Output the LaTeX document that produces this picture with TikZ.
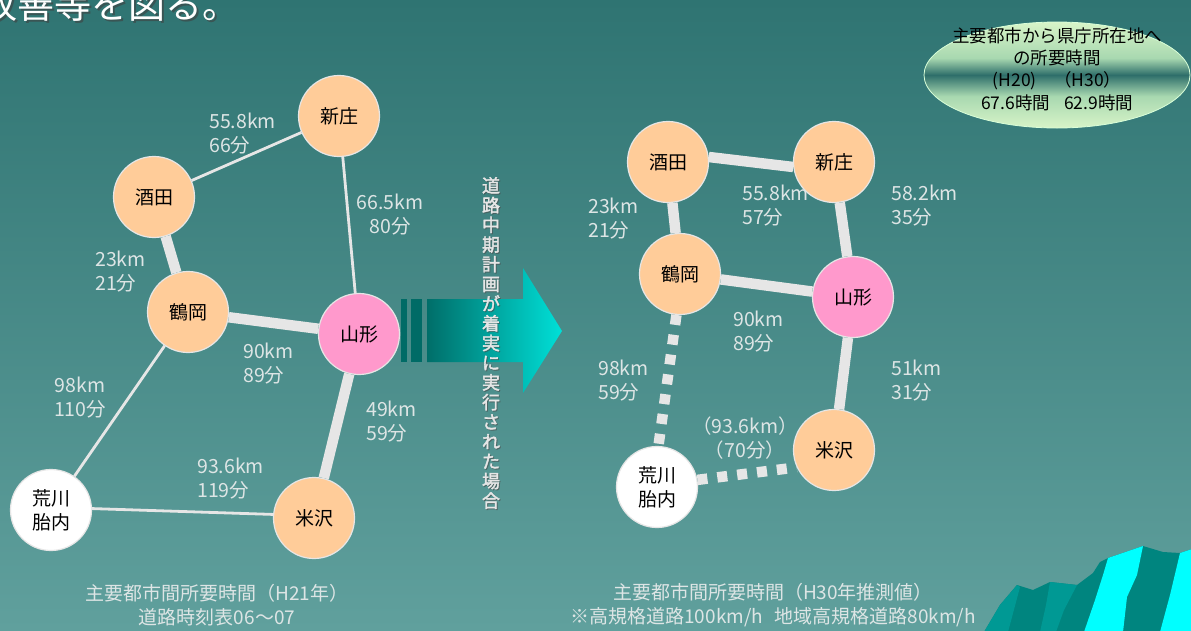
\documentclass[tikz,border=0pt]{standalone}
\usepackage{fontspec}
\setmainfont[AutoFakeBold=2]{Noto Sans CJK JP}
\usetikzlibrary{shapes.geometric}

\definecolor{bgtop}{HTML}{2F7472}
\definecolor{bgbot}{HTML}{60A09D}
\definecolor{roadc}{HTML}{E6E6E6}
\definecolor{labelc}{HTML}{DDE5E5}
\definecolor{peachc}{HTML}{FFCC99}
\definecolor{pinkfill}{HTML}{FF99CC}
\definecolor{arrowdark}{HTML}{006E69}
\definecolor{arrowlight}{HTML}{00E0D8}
\definecolor{bardark}{HTML}{006B66}
\definecolor{ellight}{HTML}{D8F4C8}
\definecolor{elmid}{HTML}{A8D8B0}
\definecolor{eldark}{HTML}{2E6E6A}
\definecolor{mtdark}{HTML}{00857F}
\definecolor{mtmid}{HTML}{009994}
\definecolor{mtcyan}{HTML}{00FFFF}

% light band, dark seam in the middle, light band again
\pgfdeclareverticalshading{ellshade}{100bp}{%
  color(0bp)=(ellight); color(25bp)=(ellight); color(40bp)=(elmid);
  color(50bp)=(eldark); color(58bp)=(elmid); color(75bp)=(ellight);
  color(100bp)=(ellight)}

\begin{document}
\begin{tikzpicture}[x=1pt,y=-1pt,
  city/.style={circle, minimum size=81pt, inner sep=0pt, draw=roadc,
    line width=1.2pt, text=black, align=center,
    font=\fontsize{19}{24}\selectfont},
  peach/.style={city, fill=peachc},
  capital/.style={city, fill=pinkfill},
  plain/.style={city, fill=white},
  thinroad/.style={draw=roadc, line width=2.8pt},
  thickroad/.style={draw=roadc, line width=10.5pt},
  plannedroad/.style={draw=roadc, line width=10.5pt, dash pattern=on 10pt off 10pt},
  dist/.style={text=labelc, inner sep=0pt, align=left,
    font=\fontsize{19.5}{24}\selectfont},
  caption/.style={text=labelc, inner sep=0pt, align=center,
    font=\fontsize{19}{24}\selectfont},
]
\useasboundingbox (0,0) rectangle (1191,630);
\clip (0,0) rectangle (1191,630);
\shade[top color=bgtop, bottom color=bgbot] (0,0) rectangle (1191,630);

% heading line running in from the left
\node[anchor=base west, inner sep=0pt, text=black!75, opacity=0.6,
  font=\fontsize{37}{40}\selectfont] (headshadow) at (-18,20) {改善等を図る。};
\node[anchor=base west, inner sep=0pt, text=white,
  font=\fontsize{37}{40}\selectfont] (head) at (-20,18) {改善等を図る。};

% summary ellipse
\node[ellipse, minimum width=266pt, minimum height=106pt, draw=white!85!green,
  line width=0.8pt, shading=ellshade] (summary) at (1057,75) {};
\node[align=center, inner sep=0pt, text=black,
  font=\fontsize{17.5}{22.3}\selectfont] (summarytext) at (1057,69)
  {主要都市から県庁所在地へ\\の所要時間\\(H20)\hspace{1em}（H30）\\67.6時間\hspace{0.8em}62.9時間};

% ---------- current network ----------
\node[peach]   (shinjoL)   at (339,116) {新庄};
\node[peach]   (sakataL)   at (154,197) {酒田};
\node[peach]   (tsuruokaL) at (188,312) {鶴岡};
\node[capital] (yamagataL) at (359,334) {山形};
\node[plain]   (araL)      at (51,510)  {荒川\\胎内};
\node[peach]   (yonezawaL) at (314,518) {米沢};

\draw[thinroad]  (sakataL) -- (shinjoL);
\draw[thinroad]  (shinjoL) -- (yamagataL);
\draw[thickroad] (sakataL) -- (tsuruokaL);
\draw[thickroad] (tsuruokaL) -- (yamagataL);
\draw[thinroad]  (tsuruokaL) -- (araL);
\draw[thinroad]  (araL.2) -- (yonezawaL.175);
\draw[thickroad] (yamagataL) -- (yonezawaL);

\node[dist, anchor=west] (dSS)  at (209,134) {55.8km\\66分};
\node[dist, anchor=center, align=center] (dSY) at (390,215) {66.5km\\80分};
\node[dist, anchor=west] (dST)  at (95,272)  {23km\\21分};
\node[dist, anchor=center, align=center] (dTA) at (80,398) {98km\\110分};
\node[dist, anchor=west] (dTY)  at (243,364) {90km\\89分};
\node[dist, anchor=west] (dYY)  at (366,422) {49km\\59分};
\node[dist, anchor=west] (dAY)  at (197,479) {93.6km\\119分};

\node[caption] (capL) at (217,605) {主要都市間所要時間（H21年）\\道路時刻表06～07};

% ---------- transition arrow ----------
\fill[bardark] (401,299) rectangle (407,362);
\fill[bardark] (411,299) rectangle (422,362);
\shade[left color=arrowdark, right color=arrowlight]
  (427,299) -- (523,299) -- (523,268) -- (562,331) -- (523,393)
  -- (523,362) -- (427,362) -- cycle;
\node[align=center, inner sep=0pt, text=black!70, opacity=0.5,
  font=\fontsize{18}{19.7}\selectfont\bfseries] (planshadow) at (492,344)
  {道\\路\\中\\期\\計\\画\\が\\着\\実\\に\\実\\行\\さ\\れ\\た\\場\\合};
\node[align=center, inner sep=0pt, text=roadc,
  font=\fontsize{18}{19.7}\selectfont\bfseries] (plan) at (491,343)
  {道\\路\\中\\期\\計\\画\\が\\着\\実\\に\\実\\行\\さ\\れ\\た\\場\\合};

% ---------- planned network ----------
\node[peach]   (sakataR)   at (668,162) {酒田};
\node[peach]   (shinjoR)   at (834,162) {新庄};
\node[peach]   (tsuruokaR) at (680,274) {鶴岡};
\node[capital] (yamagataR) at (853,297) {山形};
\node[peach]   (yonezawaR) at (834,450) {米沢};
\node[plain]   (araR)      at (657,487) {荒川\\胎内};

\draw[thickroad] (sakataR.7) -- (shinjoR.187);
\draw[thickroad] (sakataR) -- (tsuruokaR);
\draw[thickroad] (shinjoR) -- (yamagataR);
\draw[thickroad] (tsuruokaR) -- (yamagataR);
\draw[thickroad] (yamagataR) -- (yonezawaR);
\draw[plannedroad] (tsuruokaR.265) -- (araR.88);
\draw[plannedroad] (araR.10) -- (yonezawaR.205);

\node[dist, anchor=west] (eST) at (588,219) {23km\\21分};
\node[dist, anchor=west] (eSS) at (742,206) {55.8km\\57分};
\node[dist, anchor=west] (eSY) at (891,206) {58.2km\\35分};
\node[dist, anchor=west] (eTY) at (733,332) {90km\\89分};
\node[dist, anchor=west] (eTA) at (598,381) {98km\\59分};
\node[dist, anchor=west] (eYY) at (891,381) {51km\\31分};
\node[dist, anchor=center, align=center] (eAY) at (745,438) {（93.6km）\\（70分）};

\node[caption] (capR) at (773,605)
  {主要都市間所要時間（H30年推測値）\\※高規格道路100km/h\hspace{0.6em}地域高規格道路80km/h};

% ---------- mountain ornament ----------
\fill[mtdark] (984,632) -- (1000,605) -- (1017,585) -- (1033,590) -- (1050,582)
  -- (1077,585) -- (1093,573) -- (1100,562) -- (1108,558) -- (1143,546)
  -- (1163,552) -- (1180,553) -- (1195,548) -- (1195,632) -- cycle;
\fill[mtmid] (984,632) -- (1000,605) -- (1017,585) -- (1020,587) -- (1008,632) -- cycle;
\fill[mtmid] (1050,582) -- (1077,585) -- (1064,610) -- (1056,632) -- (1040,632)
  -- (1046,605) -- cycle;
\fill[mtcyan] (1108,558) -- (1143,546) -- (1137,575) -- (1127,597) -- (1123,632)
  -- (1084,632) -- (1095,600) -- (1103,575) -- cycle;
\fill[mtcyan] (1180,553) -- (1195,548) -- (1195,632) -- (1160,632) -- (1170,595) -- cycle;
\end{tikzpicture}
\end{document}
